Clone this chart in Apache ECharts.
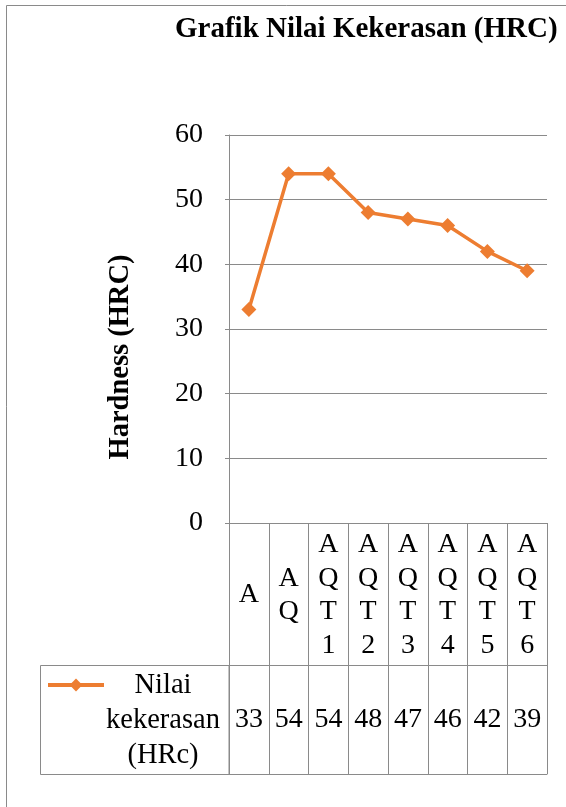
<!DOCTYPE html>
<html>
<head>
<meta charset="utf-8">
<script src="https://cdn.jsdelivr.net/npm/echarts@6/dist/echarts.min.js"></script>
<style>
  html, body { margin: 0; padding: 0; background: #fff; }
  #chart { width: 566px; height: 807px; }
</style>
</head>
<body>
<div id="chart"></div>
<script>
// Hardness per treatment
const categories = ['A', 'AQ', 'AQT1', 'AQT2', 'AQT3', 'AQT4', 'AQT5', 'AQT6'];
const hardness = [33, 54, 54, 48, 47, 46, 42, 39];
const seriesName = 'Nilai kekerasan (HRc)';
const legendLines = ['Nilai', 'kekerasan', '(HRc)'];
const yTicks = { min: 0, max: 60, step: 10 };

const FONT = '"Liberation Serif", "Times New Roman", serif';
const GRAY = '#8a8a8a';
const ORANGE = '#ED7D31';

const chart = echarts.init(document.getElementById('chart'));

chart.setOption({
  animation: false,
  backgroundColor: '#fff',
  textStyle: { fontFamily: FONT, color: '#000' },
  title: {
    text: 'Grafik Nilai Kekerasan (HRC)',
    left: 175,
    top: 14,
    padding: 0,
    textStyle: { fontFamily: FONT, fontSize: 29, fontWeight: 'bold', color: '#000', lineHeight: 32 }
  },
  legend: {
    data: [seriesName],
    left: 46,
    top: 677,
    padding: 0,
    itemWidth: 56,
    itemHeight: 16,
    lineStyle: { width: 4 },
    formatter: () => '',
    selectedMode: false
  },
  grid: { left: 229, right: 19, top: 135, bottom: 284, containLabel: false },
  xAxis: [
    {
      // category header row of the data table
      type: 'category',
      data: categories,
      position: 'bottom',
      axisLine: { show: true, lineStyle: { color: GRAY, width: 1 } },
      axisTick: { show: true, length: 142, lineStyle: { color: GRAY, width: 1 } },
      axisLabel: {
        interval: 0,
        margin: 72,
        verticalAlign: 'middle',
        fontFamily: FONT,
        fontSize: 28,
        lineHeight: 33.5,
        color: '#000',
        formatter: (v) => v.split('').join('\n')
      },
      splitLine: { show: false }
    },
    {
      // value row of the data table
      type: 'category',
      data: categories,
      position: 'bottom',
      offset: 142,
      axisLine: { show: true, lineStyle: { color: GRAY, width: 1 } },
      axisTick: { show: true, length: 109, lineStyle: { color: GRAY, width: 1 } },
      axisLabel: {
        interval: 0,
        margin: 55,
        verticalAlign: 'middle',
        fontFamily: FONT,
        fontSize: 28,
        color: '#000',
        formatter: (v, i) => String(hardness[i])
      }
    },
    {
      // bottom edge of the data table
      type: 'category',
      data: categories,
      position: 'bottom',
      offset: 251,
      axisLine: { show: true, lineStyle: { color: GRAY, width: 1 } },
      axisTick: { show: false },
      axisLabel: { show: false }
    }
  ],
  yAxis: {
    type: 'value',
    min: yTicks.min,
    max: yTicks.max,
    interval: yTicks.step,
    axisLine: { show: true, lineStyle: { color: GRAY, width: 1 } },
    axisTick: { show: true, length: 4, lineStyle: { color: GRAY } },
    axisLabel: { margin: 26, fontFamily: FONT, fontSize: 28, color: '#000' },
    splitLine: { show: true, lineStyle: { color: GRAY, width: 1 } }
  },
  series: [
    {
      name: seriesName,
      type: 'line',
      xAxisIndex: 0,
      data: hardness,
      symbol: 'diamond',
      symbolSize: 15,
      lineStyle: { color: ORANGE, width: 3.5 },
      itemStyle: { color: ORANGE },
      z: 5
    }
  ],
  graphic: [
    {
      type: 'rect',
      silent: true,
      z: -1,
      shape: { x: 6.5, y: 5.5, width: 640, height: 900 },
      style: { fill: 'none', stroke: GRAY, lineWidth: 1 }
    },
    {
      type: 'rect',
      silent: true,
      shape: { x: 40.5, y: 665.5, width: 188.5, height: 109 },
      style: { fill: 'none', stroke: GRAY, lineWidth: 1 }
    },
    {
      type: 'text',
      silent: true,
      x: 163,
      y: 721,
      style: {
        text: legendLines.join('\n'),
        font: '28.5px ' + FONT,
        lineHeight: 35,
        align: 'center',
        verticalAlign: 'middle',
        fill: '#000'
      }
    },
    {
      type: 'text',
      silent: true,
      x: 121,
      y: 357,
      rotation: Math.PI / 2,
      style: {
        text: 'Hardness (HRC)',
        font: 'bold 28.5px ' + FONT,
        align: 'center',
        verticalAlign: 'middle',
        fill: '#000'
      }
    }
  ]
});
</script>
</body>
</html>
